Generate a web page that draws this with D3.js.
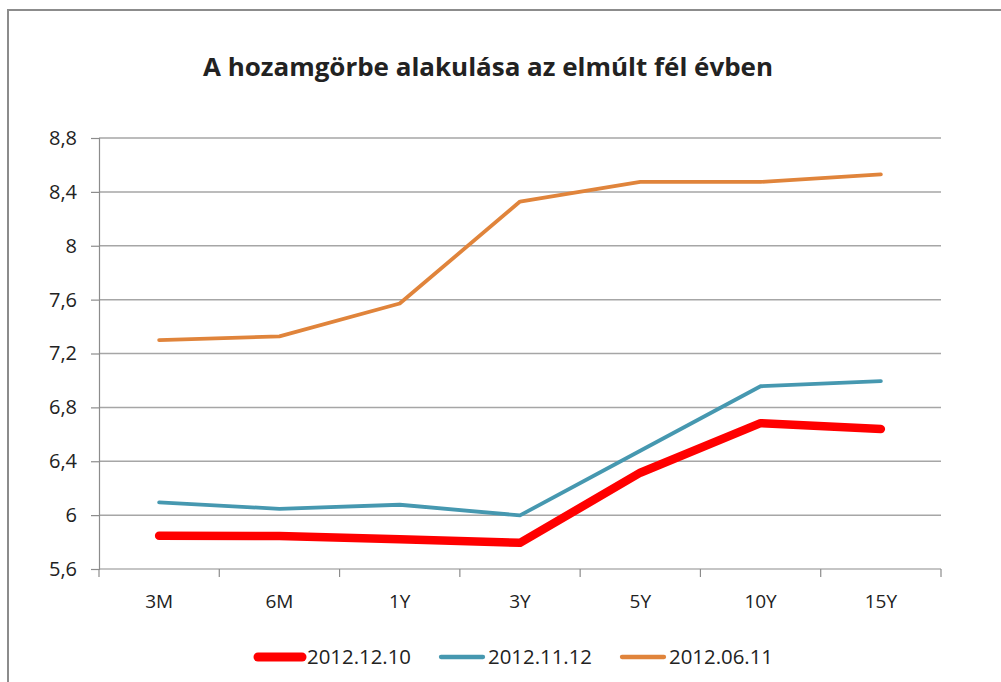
<!DOCTYPE html>
<html lang="hu">
<head>
  <meta charset="UTF-8">
  <title>A hozamgörbe alakulása</title>
  <script src="https://d3js.org/d3.v7.min.js"></script>
  <style>
    body { margin: 0; background: #fff; }
    text { font-family: "Open Sans", "Liberation Sans", sans-serif; fill: #222; }
    .grid line { stroke: #a6a6a6; stroke-width: 1.5; }
    .series { fill: none; stroke-linejoin: round; stroke-linecap: round; }
  </style>
</head>
<body>
<svg width="1001" height="682"></svg>
<script>
  const svg = d3.select("svg");

  // categories (maturities)
  const maturities = ["3M", "6M", "1Y", "3Y", "5Y", "10Y", "15Y"];

  // series values
  const dec10 = [5.846, 5.845, 5.82, 5.794, 6.315, 6.683, 6.639];
  const nov12 = [6.095, 6.047, 6.077, 5.998, 6.478, 6.957, 6.995];
  const jun11 = [7.30, 7.327, 7.571, 8.328, 8.474, 8.474, 8.53];

  const seriesNames = ["2012.12.10", "2012.11.12", "2012.06.11"];
  const yTicks = [5.6, 6, 6.4, 6.8, 7.2, 7.6, 8, 8.4, 8.8];

  const series = [
    { name: seriesNames[0], values: dec10, color: "#ff0000", width: 8.5 },
    { name: seriesNames[1], values: nov12, color: "#4698b0", width: 3.8 },
    { name: seriesNames[2], values: jun11, color: "#e0843b", width: 3.8 }
  ];

  const margin = { left: 99, right: 60, top: 138, bottom: 113 };
  const width = 1001, height = 682;

  const x = d3.scaleBand()
      .domain(maturities)
      .range([margin.left, width - margin.right])
      .padding(0);

  const y = d3.scaleLinear()
      .domain([5.6, 8.8])
      .range([height - margin.bottom, margin.top]);

  const fmt = d => String(+d.toFixed(1)).replace(".", ",");

  // outer chart border
  svg.append("rect")
      .attr("x", 8).attr("y", 10)
      .attr("width", 1010).attr("height", 690)
      .attr("fill", "none")
      .attr("stroke", "#8c8c8c")
      .attr("stroke-width", 2);

  // title
  svg.append("text")
      .attr("x", 488).attr("y", 76)
      .attr("text-anchor", "middle")
      .attr("font-size", 25)
      .attr("font-weight", "bold")
      .attr("textLength", 570)
      .attr("lengthAdjust", "spacingAndGlyphs")
      .text("A hozamgörbe alakulása az elmúlt fél évben");

  // horizontal gridlines
  svg.append("g")
      .attr("class", "grid")
    .selectAll("line")
    .data(yTicks.slice(1))
    .enter().append("line")
      .attr("x1", margin.left)
      .attr("x2", width - margin.right)
      .attr("y1", d => y(d))
      .attr("y2", d => y(d));

  // y axis
  const yAxis = svg.append("g")
      .attr("transform", `translate(${margin.left},0)`)
      .call(d3.axisLeft(y).tickValues(yTicks).tickFormat(fmt).tickSize(8).tickPadding(14));
  yAxis.select(".domain").attr("stroke", "#8c8c8c").attr("stroke-width", 1.2);
  yAxis.selectAll(".tick line").attr("stroke", "#8c8c8c").attr("stroke-width", 1.2);
  yAxis.selectAll(".tick text")
      .attr("font-size", 20)
      .attr("font-family", "'Open Sans', sans-serif")
      .attr("fill", "#333");

  // x axis: ticks between categories
  const xAxis = svg.append("g")
      .attr("transform", `translate(0,${height - margin.bottom})`);
  xAxis.append("line")
      .attr("x1", margin.left).attr("x2", width - margin.right)
      .attr("stroke", "#8c8c8c").attr("stroke-width", 1.2);
  const bounds = maturities.map(m => x(m)).concat([x(maturities[maturities.length - 1]) + x.bandwidth()]);
  xAxis.selectAll(".xt")
    .data(bounds)
    .enter().append("line")
      .attr("x1", d => d).attr("x2", d => d)
      .attr("y1", 0).attr("y2", 8)
      .attr("stroke", "#8c8c8c").attr("stroke-width", 1.2);
  xAxis.selectAll(".xl")
    .data(maturities)
    .enter().append("text")
      .attr("x", d => x(d) + x.bandwidth() / 2)
      .attr("y", 39)
      .attr("text-anchor", "middle")
      .attr("font-size", 19)
      .attr("fill", "#333")
      .text(d => d);

  // lines
  const line = d3.line()
      .x((d, i) => x(maturities[i]) + x.bandwidth() / 2)
      .y(d => y(d));

  svg.append("g")
    .selectAll("path")
    .data(series.slice().reverse())
    .enter().append("path")
      .attr("class", "series")
      .attr("stroke", d => d.color)
      .attr("stroke-width", d => d.width)
      .attr("d", d => line(d.values));

  // legend
  const legendX = [258, 441, 622];
  const legendW = [44, 42, 42];
  const legend = svg.append("g")
    .selectAll("g")
    .data(series)
    .enter().append("g")
      .attr("transform", (d, i) => `translate(${legendX[i]},657)`);
  legend.append("line")
      .attr("x1", 0).attr("x2", (d, i) => legendW[i])
      .attr("stroke", d => d.color)
      .attr("stroke-width", d => d.width + 0.5)
      .attr("stroke-linecap", "round");
  legend.append("text")
      .attr("x", (d, i) => legendW[i] + 5).attr("y", 7)
      .attr("font-size", 20)
      .attr("fill", "#333")
      .attr("textLength", 104)
      .attr("lengthAdjust", "spacingAndGlyphs")
      .text(d => d.name);
</script>
</body>
</html>
